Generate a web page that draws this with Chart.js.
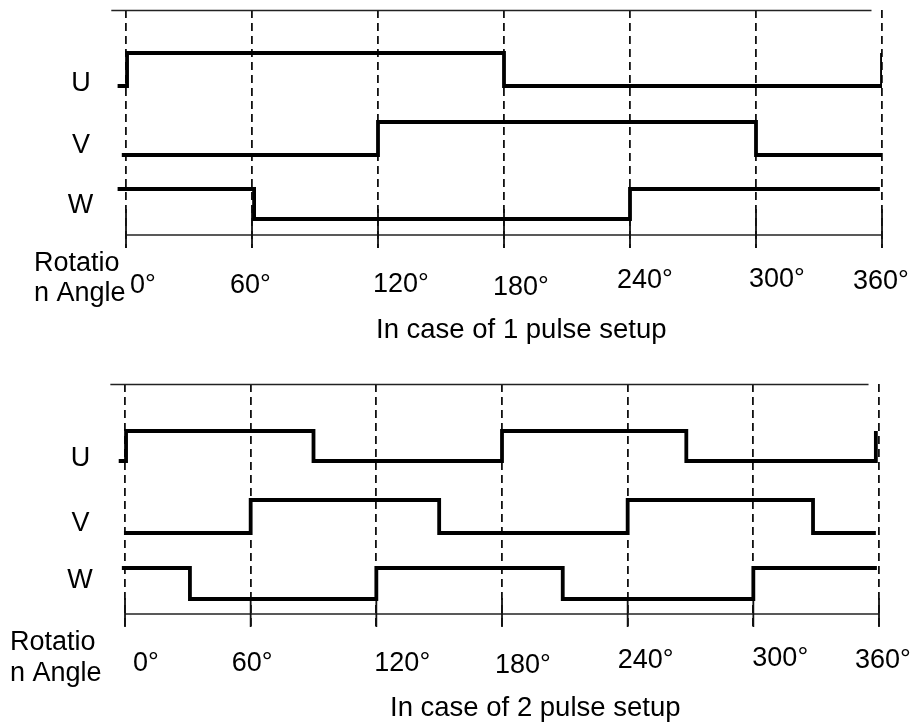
<!DOCTYPE html>
<html><head><meta charset="utf-8">
<script src="https://cdn.jsdelivr.net/npm/chart.js@4.4.0/dist/chart.umd.min.js"></script>
<style>
html,body{margin:0;padding:0;background:#fff;}
#wrap{position:relative;width:915px;height:722px;overflow:hidden;}
.panel{position:absolute;left:0;width:915px;height:361px;}
canvas{display:block;}
</style></head><body>
<div id="wrap">
<div class="panel" style="top:0"><canvas id="c1" width="915" height="361" style="width:915px;height:361px"></canvas></div>
<div class="panel" style="top:361px"><canvas id="c2" width="915" height="361" style="width:915px;height:361px"></canvas></div>
</div>
<script>
// ---------- data ----------
const signalNames = ['U', 'V', 'W'];
const tickAngles = [0, 60, 120, 180, 240, 300, 360];
const tickLabels = ['0°', '60°', '120°', '180°', '240°', '300°', '360°'];
const angleTitle = ['Rotatio', 'n Angle'];
const caption1 = 'In case of 1 pulse setup';
const caption2 = 'In case of 2 pulse setup';

// 1 pulse setup: angle where each level begins, and the logic state (0 low / 1 high)
const u1Angles = [-4, 0.5, 180, 360];
const u1States = [0, 1, 0, 1];
const v1Angles = [-2, 120, 300, 360];
const v1States = [0, 1, 0, 0];
const w1Angles = [-4, 61, 240, 359];
const w1States = [1, 0, 1, 1];

// 2 pulse setup
const u2Angles = [-3, 0.5, 90, 180, 268, 358.5];
const u2States = [0, 1, 0, 1, 0, 1];
const v2Angles = [-0.5, 60, 150, 240, 328.5, 358.5];
const v2States = [0, 1, 0, 1, 0, 0];
const w2Angles = [-1.5, 31, 120, 209, 300, 359];
const w2States = [1, 0, 1, 0, 1, 1];

// ---------- drawing ----------
const FONT = '27px "Liberation Sans", Arial, Helvetica, sans-serif';

const decoPlugin = {
  id: 'panelDeco',
  beforeDatasetsDraw(chart, args, o) {
    const ctx = chart.ctx, xs = chart.scales.x, ys = chart.scales.y;
    ctx.save();
    ctx.strokeStyle = '#222';
    ctx.lineWidth = 1.4;
    // top frame line
    const yt = chart.chartArea.top + 0.5;
    ctx.beginPath();
    ctx.moveTo(xs.getPixelForValue(o.frameFrom), yt);
    ctx.lineTo(xs.getPixelForValue(o.frameTo), yt);
    ctx.stroke();
    // angle axis line
    const ya = ys.getPixelForValue(o.axisValue);
    ctx.beginPath();
    ctx.moveTo(xs.getPixelForValue(tickAngles[0]), ya);
    ctx.lineTo(xs.getPixelForValue(tickAngles[tickAngles.length - 1]), ya);
    ctx.stroke();
    // solid tick segments
    ctx.strokeStyle = '#111';
    ctx.lineWidth = 1.8;
    tickAngles.forEach(a => {
      const px = xs.getPixelForValue(a);
      ctx.beginPath();
      ctx.moveTo(px, ya - o.tickAbove);
      ctx.lineTo(px, chart.chartArea.bottom);
      ctx.stroke();
    });
    ctx.restore();
  },
  afterDraw(chart, args, o) {
    const ctx = chart.ctx, xs = chart.scales.x;
    ctx.save();
    ctx.fillStyle = '#000';
    ctx.font = FONT;
    ctx.textBaseline = 'alphabetic';
    // signal names
    ctx.textAlign = 'center';
    signalNames.forEach((n, i) => ctx.fillText(n, o.rowLabels[i][0], o.rowLabels[i][1]));
    // tick labels
    ctx.textAlign = 'left';
    tickLabels.forEach((t, i) => {
      ctx.fillText(t, xs.getPixelForValue(tickAngles[i]) + o.tickOffsets[i][0], o.tickOffsets[i][1]);
    });
    // axis title
    angleTitle.forEach((t, i) => ctx.fillText(t, o.title[0], o.title[1] + i * o.title[2]));
    // caption
    ctx.font = '27.5px "Liberation Sans", Arial, Helvetica, sans-serif';
    ctx.fillText(o.caption, o.captionPos[0], o.captionPos[1]);
    ctx.restore();
  }
};

function makePanel(id, series, geo) {
  const datasets = series.map((s, i) => ({
    label: signalNames[i],
    data: s.angles.map((a, k) => ({ x: a, y: geo.levels[i][s.states[k]] })),
    stepped: 'before',
    borderColor: '#000',
    borderWidth: 3.8,
    pointRadius: 0,
    fill: false,
    borderCapStyle: 'butt',
    borderJoinStyle: 'miter'
  }));
  return new Chart(document.getElementById(id), {
    type: 'line',
    data: { datasets },
    plugins: [decoPlugin],
    options: {
      responsive: false,
      animation: false,
      layout: { padding: geo.padding },
      plugins: {
        legend: { display: false },
        tooltip: { enabled: false },
        panelDeco: geo.deco
      },
      scales: {
        x: {
          type: 'linear', min: -10, max: 360, display: true,
          afterBuildTicks: sc => { sc.ticks = tickAngles.map(v => ({ value: v })); },
          ticks: { display: false },
          grid: { display: true, drawOnChartArea: true, drawTicks: false, color: '#111', lineWidth: 1.8 },
          border: { display: false, dash: [8, 5] }
        },
        y: { type: 'linear', min: 0, max: geo.ymax, display: false }
      }
    }
  });
}

makePanel('c1', [
  { angles: u1Angles, states: u1States },
  { angles: v1Angles, states: v1States },
  { angles: w1Angles, states: w1States }
], {
  padding: { left: 105, right: 33, top: 10, bottom: 113 },
  ymax: 238,
  levels: [[162, 195], [93, 126], [29, 59]],
  deco: {
    frameFrom: -7, frameTo: 355, axisValue: 13, tickAbove: 26,
    rowLabels: [[81, 91], [81, 153], [80.5, 213]],
    tickOffsets: [[4, 293], [-22, 293], [-5, 292], [-11, 295], [-13, 288], [-7, 287], [-29, 289]],
    title: [34, 271, 30],
    caption: caption1, captionPos: [376, 338]
  }
});

makePanel('c2', [
  { angles: u2Angles, states: u2States },
  { angles: v2Angles, states: v2States },
  { angles: w2Angles, states: w2States }
], {
  padding: { left: 104.06, right: 36, top: 23, bottom: 95 },
  ymax: 243,
  levels: [[166, 196], [94, 127], [28, 59]],
  deco: {
    frameFrom: -7, frameTo: 355, axisValue: 13, tickAbove: 16,
    rowLabels: [[80.5, 105], [80.5, 170], [80, 227]],
    tickOffsets: [[8, 310], [-19, 310], [-2, 310], [-7, 312], [-10, 307], [-1, 305], [-24, 307]],
    title: [10, 289, 31],
    caption: caption2, captionPos: [390, 355]
  }
});
</script>
</body></html>
